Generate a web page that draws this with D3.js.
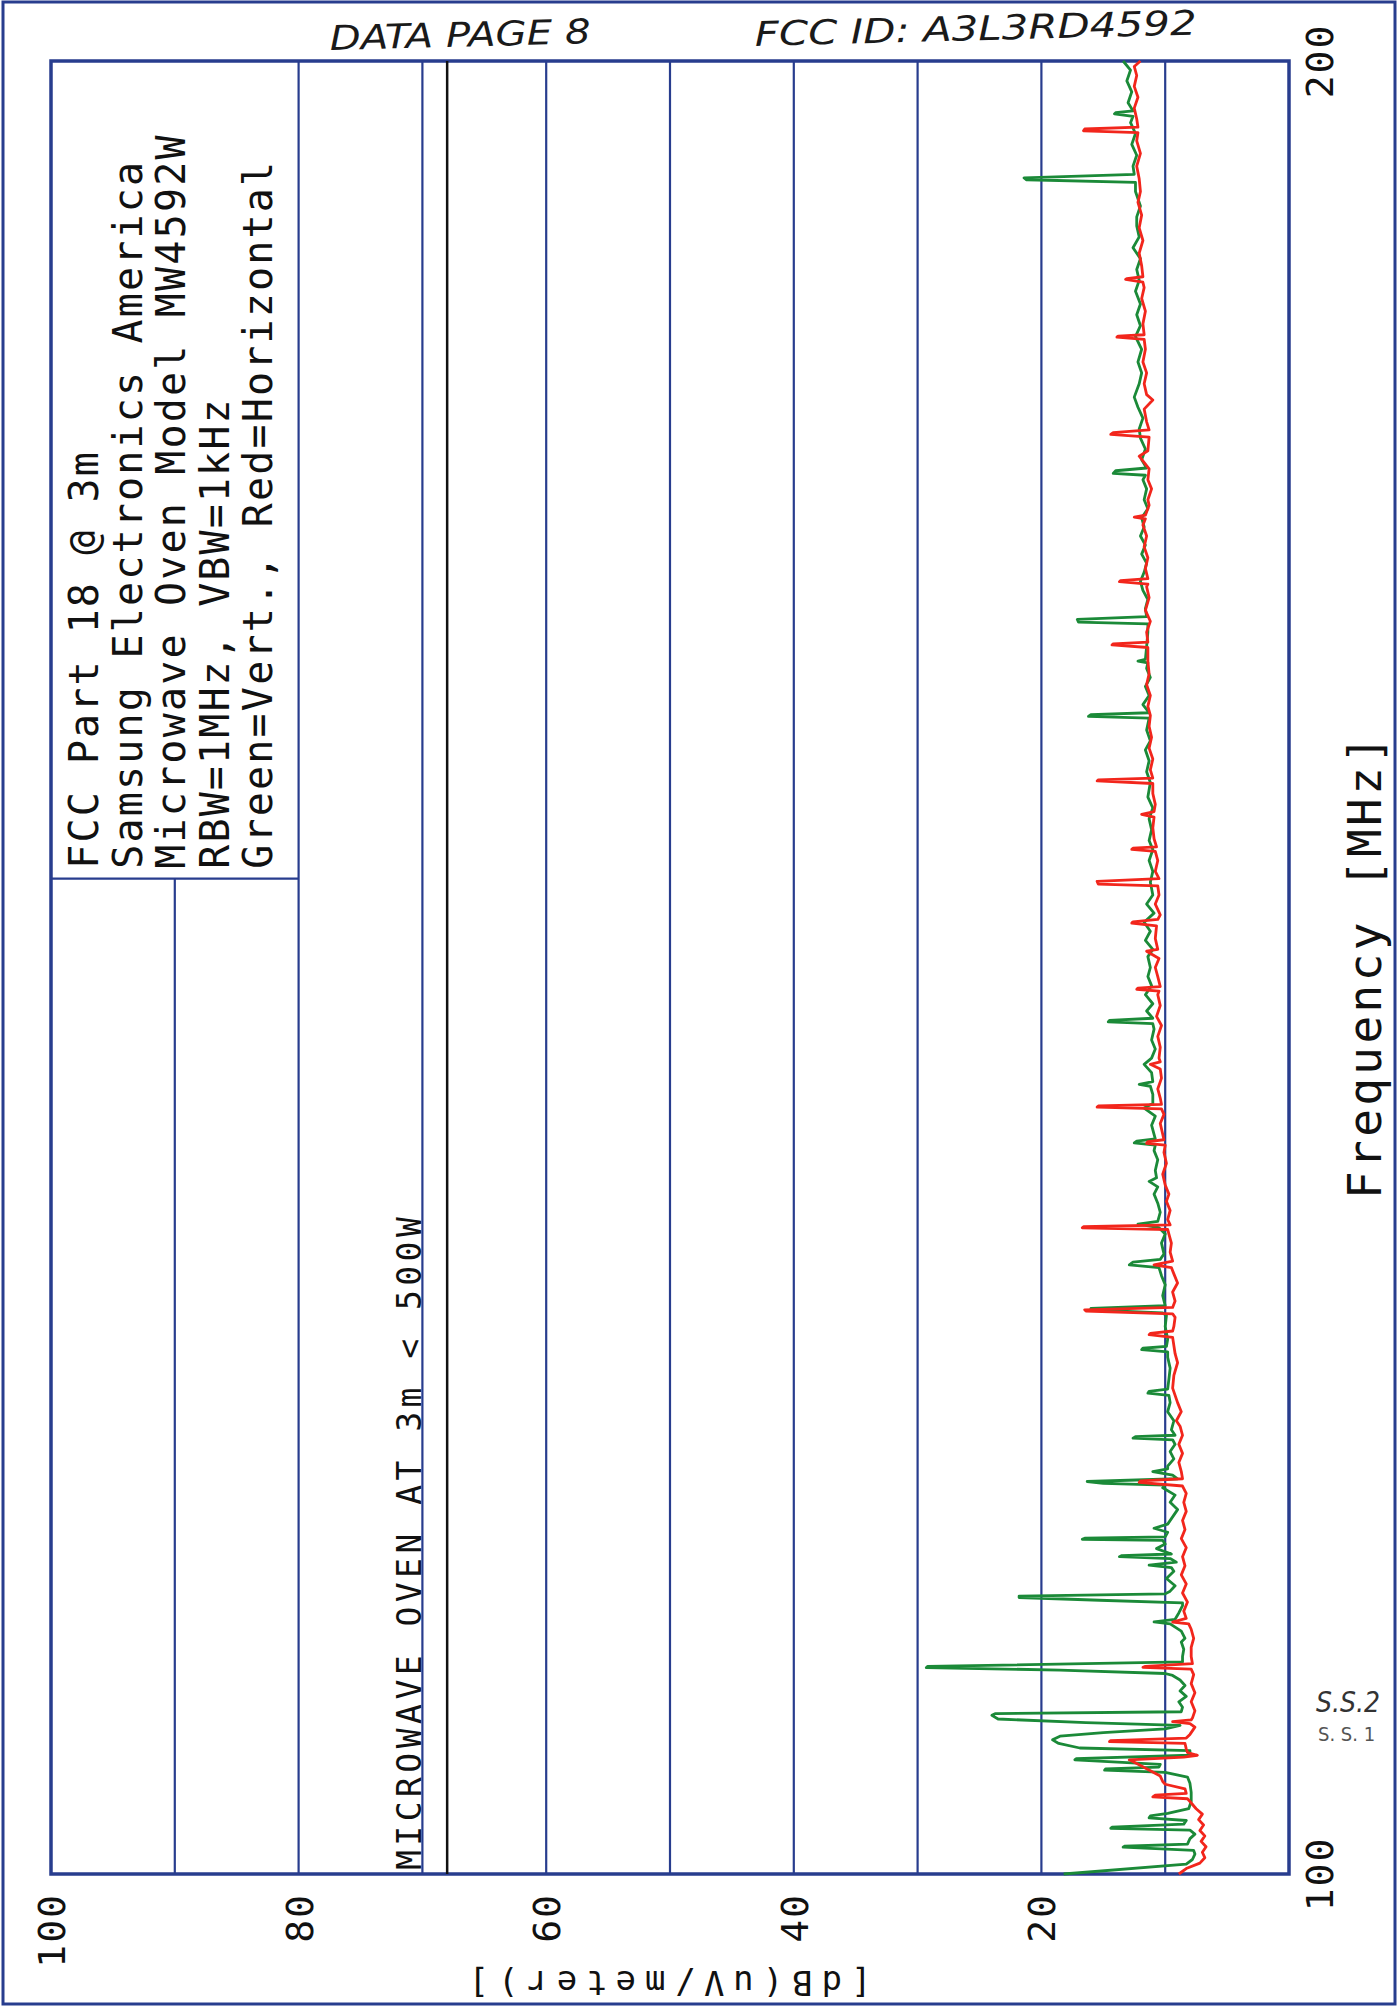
<!DOCTYPE html>
<html>
<head>
<meta charset="utf-8">
<script src="https://cdn.jsdelivr.net/npm/d3@7"></script>
<style>
  html, body { margin: 0; padding: 0; background: #ffffff; }
  svg { display: block; }
</style>
</head>
<body>
<svg id="chart" width="1399" height="2007"></svg>
<script>
// ---------------- DATA ----------------
const freqDomain = [100, 200];            // MHz
const levelDomain = [0, 100];             // dB(uV/meter)
const freqTickLabels = ["100", "200"];
const freqTickValues = [100, 200];
const levelTickValues = [100, 80, 60, 40, 20];
const gridLevels = [10, 20, 30, 40, 50, 60, 70, 80, 90];
const limitLevel = 68;                     // 3 m limit, oven < 500 W
const infoBoxBottomFreq = 154.9;           // info box covers 80..100 dB above this
const infoLines = [
  "FCC Part 18 @ 3m",
  "Samsung Electronics America",
  "Microwave Oven Model MW4592W",
  "RBW=1MHz, VBW=1kHz",
  "Green=Vert., Red=Horizontal"
];
const limitLabel = "MICROWAVE OVEN AT 3m < 500W";
const xTitle = "Frequency [MHz]";
const yTitle = "[dB(uV/meter)]";
const headerNotes = ["DATA PAGE 8", "FCC ID: A3L3RD4592"];
const initials = ["S.S.2", "S. S. 1"];

// Green = vertical polarisation  [MHz, dB(uV/m)]
const greenVert = [
[100.0,18.2],[100.55,8.3],[100.8,7.8],[101.1,7.6],[101.3,7.7],[101.48,13.4],[101.53,13.3],[101.65,8.2],
[101.95,8.0],[102.2,7.6],[102.42,8.0],[102.52,14.4],[102.58,14.3],[102.75,8.5],[102.95,8.3],[103.1,11.3],
[103.2,11.2],[103.35,9.8],[103.6,8.1],[104.0,7.9],[104.5,7.9],[105.0,8.0],[105.35,8.2],[105.6,10.0],
[105.73,14.9],[105.8,14.8],[105.9,10.5],[106.05,10.4],[106.3,17.3],[106.36,17.2],[106.55,8.0],[106.8,8.0],
[106.95,16.9],[107.2,18.6],[107.4,19.1],[107.6,18.5],[107.8,15.0],[108.0,10.0],[108.2,8.8],[108.35,16.4],
[108.55,23.5],[108.75,24.0],[108.85,23.7],[108.95,8.7],[109.2,8.6],[109.5,8.9],[109.8,8.3],[110.1,8.8],
[110.4,8.4],[110.7,8.8],[110.95,9.4],[111.06,10.0],[111.25,18.5],[111.38,29.3],[111.45,29.2],[111.7,8.6],
[112.0,8.6],[112.4,8.5],[112.8,8.7],[113.0,8.4],[113.4,8.7],[113.8,9.6],[113.91,10.9],[114.05,9.2],
[114.4,8.9],[114.8,8.6],[114.95,8.6],[115.1,15.3],[115.25,21.8],[115.33,21.8],[115.45,10.0],[115.6,9.6],
[115.9,9.2],[116.3,9.9],[116.7,9.3],[116.9,9.5],[117.04,11.3],[117.2,9.1],[117.4,9.6],[117.5,13.7],
[117.56,13.5],[117.65,9.5],[117.95,10.7],[118.2,10.0],[118.4,10.2],[118.46,16.7],[118.52,16.5],[118.6,10.0],
[118.85,9.8],[119.07,10.9],[119.3,9.8],[119.7,9.4],[120.1,9.0],[120.5,9.6],[120.9,9.2],[121.3,10.2],
[121.45,10.0],[121.55,15.0],[121.65,16.3],[121.8,9.0],[122.0,9.4],[122.2,11.0],[122.35,9.8],[122.5,9.8],
[122.9,9.3],[123.3,9.6],[123.7,9.2],[123.95,9.4],[124.04,12.6],[124.12,12.4],[124.2,9.2],[124.5,9.5],
[125.0,9.3],[125.5,9.8],[126.0,9.6],[126.4,9.7],[126.52,11.4],[126.62,11.3],[126.75,9.8],[127.3,9.7],
[127.9,9.6],[128.5,9.8],[128.8,9.8],[128.92,11.9],[129.0,11.8],[129.1,9.9],[129.5,9.8],[130.2,10.0],
[130.8,9.9],[130.95,10.2],[131.1,15.5],[131.2,16.0],[131.35,10.0],[131.9,10.2],[132.5,10.0],[133.0,10.3],
[133.45,10.5],[133.6,12.9],[133.75,12.6],[133.9,10.4],[134.2,10.1],[134.8,10.3],[135.3,10.0],[135.65,10.5],
[135.85,12.2],[136.0,10.6],[136.5,10.4],[137.0,10.6],[137.5,10.9],[137.9,10.6],[138.2,11.3],[138.4,10.7],
[138.8,10.8],[139.4,10.6],[139.9,10.9],[140.2,10.8],[140.33,12.5],[140.42,12.3],[140.55,10.8],[140.8,10.9],
[141.3,11.1],[141.8,10.8],[142.25,11.7],[142.5,11.0],[143.0,11.0],[143.45,11.2],[143.55,12.1],[143.7,11.0],
[144.2,11.1],[144.66,11.7],[145.0,11.1],[145.5,10.8],[146.0,11.1],[146.6,10.9],[146.9,11.0],[147.0,14.6],
[147.08,14.5],[147.2,11.0],[147.6,11.5],[148.0,11.0],[148.5,11.6],[149.0,11.1],[149.5,11.4],[150.0,11.2],
[150.6,11.4],[151.0,11.0],[151.5,11.6],[152.0,11.2],[152.5,11.7],[153.0,10.9],[153.5,11.5],[154.0,11.0],
[154.7,11.2],[155.3,11.0],[155.9,11.3],[156.5,11.0],[157.0,11.3],[157.6,11.1],[158.2,11.3],[158.8,11.0],
[159.4,11.4],[160.2,11.2],[160.8,11.5],[161.4,11.3],[162.0,11.6],[162.5,11.2],[163.1,11.5],[163.75,11.3],
[163.85,16.2],[163.95,16.0],[164.05,11.3],[164.5,11.8],[165.0,11.3],[165.5,11.6],[166.0,11.2],[166.5,11.5],
[166.8,11.4],[166.9,12.2],[167.0,11.6],[167.7,11.5],[168.5,11.4],[168.95,11.4],[169.05,17.0],[169.2,17.1],
[169.35,11.5],[169.8,11.6],[170.3,11.4],[170.8,11.8],[171.3,12.0],[171.8,11.7],[172.3,11.5],[172.8,11.9],
[173.3,11.6],[173.8,12.0],[174.3,11.7],[174.8,11.9],[175.3,11.4],[175.8,11.7],[176.4,11.5],[176.9,11.8],
[177.15,11.6],[177.25,14.2],[177.4,14.0],[177.55,11.5],[178.0,11.9],[178.6,11.6],[179.2,12.0],[179.7,12.1],
[180.3,11.8],[180.9,12.2],[181.46,12.5],[182.2,12.1],[182.8,11.9],[183.4,12.2],[184.1,11.9],[184.8,12.4],
[185.4,12.0],[186.0,12.3],[186.6,12.0],[187.3,12.4],[187.9,12.1],[188.5,12.3],[189.1,12.0],[189.7,12.6],
[190.3,12.1],[190.9,12.3],[191.4,12.3],[192.0,12.0],[192.8,12.4],[193.3,12.4],[193.45,21.2],[193.55,21.4],
[193.75,12.5],[194.2,12.6],[194.8,12.3],[195.4,12.7],[196.0,12.4],[196.6,12.8],[196.95,12.6],[197.08,14.1],
[197.15,14.0],[197.25,12.6],[197.7,13.0],[198.3,12.7],[198.9,13.1],[199.5,12.8],[200.0,13.4]
];

// Red = horizontal polarisation  [MHz, dB(uV/m)]
const redHoriz = [
[100.0,8.9],[100.3,8.3],[100.6,7.2],[100.9,6.8],[101.2,7.0],[101.5,6.7],[101.8,7.1],[102.1,6.8],
[102.4,7.2],[102.7,6.9],[103.0,7.3],[103.3,7.0],[103.6,7.5],[104.0,8.0],[104.15,8.2],[104.25,11.0],
[104.35,10.8],[104.45,8.3],[104.7,8.4],[104.95,10.0],[105.1,10.2],[105.4,10.4],[105.8,11.5],[106.1,12.3],
[106.3,12.9],[106.45,8.5],[106.55,7.4],[106.7,8.2],[106.9,8.3],[107.2,8.4],[107.3,14.5],[107.36,14.4],
[107.5,8.3],[107.7,8.0],[108.1,7.6],[108.3,8.0],[108.4,9.4],[108.5,7.9],[108.6,7.8],[109.0,7.6],
[109.5,7.9],[110.0,7.6],[110.5,7.9],[111.0,7.7],[111.3,7.9],[111.4,11.8],[111.45,11.6],[111.6,7.8],
[112.0,7.9],[112.5,7.9],[113.0,7.7],[113.5,7.9],[113.8,8.1],[113.9,9.4],[114.1,8.3],[114.5,8.5],
[115.0,8.2],[115.5,8.6],[116.0,8.3],[116.5,8.7],[117.0,8.4],[117.5,8.6],[118.0,8.3],[118.5,8.7],
[119.0,8.4],[119.5,8.6],[120.0,8.3],[120.5,8.5],[121.0,8.3],[121.4,8.6],[121.6,12.1],[121.68,12.0],
[121.8,8.6],[122.2,8.7],[122.7,8.9],[123.2,8.6],[123.7,8.9],[124.2,8.6],[124.7,8.8],[125.0,9.1],
[125.5,8.7],[126.0,9.0],[126.8,9.4],[127.5,9.3],[128.2,9.0],[128.7,9.2],[129.6,9.4],[129.75,11.3],
[129.82,11.2],[129.95,9.4],[130.2,9.3],[130.7,9.2],[130.9,9.4],[131.05,16.4],[131.12,16.5],[131.25,9.4],
[131.6,9.2],[132.1,9.4],[132.6,9.0],[133.1,9.3],[133.45,9.5],[133.6,10.9],[133.8,9.4],[134.3,9.6],
[134.8,9.5],[135.3,9.7],[135.55,9.8],[135.64,16.7],[135.7,16.6],[135.8,9.6],[136.1,9.8],[136.6,9.6],
[137.1,9.9],[137.5,9.7],[138.0,10.0],[138.6,10.2],[139.2,9.9],[139.8,10.1],[140.2,10.0],[140.3,11.5],
[140.4,11.4],[140.5,10.1],[140.8,10.2],[141.4,10.4],[141.9,10.1],[142.2,10.3],[142.3,15.5],[142.36,15.4],
[142.45,10.3],[142.8,10.4],[143.3,10.6],[143.9,10.3],[144.4,10.4],[144.66,11.2],[144.8,10.4],[145.0,10.5],
[145.6,10.4],[146.2,10.6],[146.8,10.3],[147.3,10.7],[147.9,10.4],[148.5,10.6],[148.7,10.5],[148.8,12.3],
[148.86,12.2],[148.95,10.4],[149.5,10.6],[150.0,10.8],[150.5,10.5],[150.9,11.5],[151.0,10.6],[151.6,10.8],
[152.3,10.7],[152.45,12.7],[152.52,12.6],[152.65,10.6],[152.9,10.4],[153.5,10.8],[154.0,10.5],[154.5,10.6],
[154.6,15.4],[154.75,15.5],[154.9,10.5],[155.3,10.8],[155.9,10.6],[156.4,10.8],[156.52,12.7],[156.58,12.6],
[156.65,10.7],[157.1,10.9],[157.7,11.0],[158.3,10.9],[158.45,11.9],[158.6,10.9],[159.0,10.8],[159.6,11.0],
[160.15,11.0],[160.29,15.5],[160.35,15.4],[160.45,11.0],[160.9,11.2],[161.5,11.0],[162.1,11.3],[162.7,11.1],
[163.3,11.3],[163.9,11.2],[164.4,11.4],[165.0,11.2],[165.6,11.5],[166.2,11.3],[166.9,11.4],[167.65,11.4],
[167.79,14.3],[167.85,14.2],[167.95,11.4],[168.5,11.5],[169.1,11.2],[169.7,11.6],[170.4,11.3],[171.0,11.5],
[171.15,11.4],[171.28,13.7],[171.34,13.6],[171.45,11.4],[172.0,11.6],[172.6,11.4],[173.2,11.7],[173.8,11.5],
[174.4,11.8],[174.75,11.6],[174.84,12.5],[174.95,11.6],[175.5,11.3],[175.8,11.4],[176.4,11.1],[176.9,11.4],
[177.5,11.3],[178.2,12.1],[178.5,11.4],[179.25,11.3],[179.4,14.4],[179.5,14.2],[179.65,11.3],[180.1,11.5],
[180.8,11.7],[181.3,11.0],[181.6,11.5],[182.2,11.7],[182.8,11.5],[183.4,11.8],[184.1,11.6],[184.65,11.7],
[184.77,13.9],[184.83,13.8],[184.9,11.7],[185.5,11.8],[186.2,11.6],[186.9,11.9],[187.5,11.7],[187.8,11.8],
[187.95,13.2],[188.0,13.1],[188.1,11.8],[188.7,11.9],[189.4,12.1],[190.1,11.8],[190.8,12.1],[191.5,11.9],
[192.2,12.2],[192.8,12.0],[193.5,12.1],[194.2,12.3],[194.9,12.0],[195.6,12.3],[196.05,12.2],[196.15,16.6],
[196.25,16.5],[196.35,12.2],[196.8,12.3],[197.4,12.5],[198.0,12.2],[198.6,12.5],[199.2,12.3],[199.7,12.5],
[200.0,12.0]
];

// ---------------- DRAWING ----------------
const W = 1399, H = 2007;
const navy = "#283d8e", green = "#1b8a38", red = "#f2261c";
const plotFont = "'DejaVu Sans Mono', 'Liberation Mono', monospace";
const handFont = "'DejaVu Sans Condensed', 'DejaVu Sans', sans-serif";

const svg = d3.select("#chart");
svg.append("rect").attr("width", W).attr("height", H).attr("fill", "#ffffff");

// page border
svg.append("rect").attr("x", 3).attr("y", 2).attr("width", 1392).attr("height", 2002)
  .attr("fill", "none").attr("stroke", navy).attr("stroke-width", 3);

// Landscape chart rotated onto the portrait page
const g = svg.append("g").attr("transform", `translate(0,${H}) rotate(-90)`);

const x = d3.scaleLinear().domain(freqDomain).range([133, 1946]);
const y = d3.scaleLinear().domain(levelDomain).range([1289, 51]);

// gridlines (horizontal in landscape)
g.selectAll("line.grid").data(gridLevels).join("line")
  .attr("class", "grid")
  .attr("x1", x(100))
  .attr("x2", d => d === 90 ? x(infoBoxBottomFreq) : x(200))
  .attr("y1", d => y(d)).attr("y2", d => y(d))
  .attr("stroke", navy).attr("stroke-width", 2.2);

// info box edge
g.append("line")
  .attr("x1", x(infoBoxBottomFreq)).attr("x2", x(infoBoxBottomFreq))
  .attr("y1", y(100)).attr("y2", y(80))
  .attr("stroke", navy).attr("stroke-width", 2.2);

// frame
g.append("rect")
  .attr("x", x(100)).attr("y", y(100))
  .attr("width", x(200) - x(100)).attr("height", y(0) - y(100))
  .attr("fill", "none").attr("stroke", navy).attr("stroke-width", 3.5);

// limit line
g.append("line")
  .attr("x1", x(100)).attr("x2", x(200))
  .attr("y1", y(limitLevel)).attr("y2", y(limitLevel))
  .attr("stroke", "#111111").attr("stroke-width", 2.5);

// traces
const line = d3.line().x(d => x(d[0])).y(d => y(d[1]));
g.append("path").datum(greenVert).attr("d", line)
  .attr("fill", "none").attr("stroke", green).attr("stroke-width", 2.8).attr("stroke-linejoin", "round");
g.append("path").datum(redHoriz).attr("d", line)
  .attr("fill", "none").attr("stroke", red).attr("stroke-width", 2.8).attr("stroke-linejoin", "round");

// info box text
const infoBase = [98, 142, 185, 229, 272];
g.selectAll("text.info").data(infoLines).join("text")
  .attr("class", "info")
  .attr("x", x(infoBoxBottomFreq) + 10)
  .attr("y", (d, i) => infoBase[i])
  .attr("font-family", plotFont).attr("font-size", 40)
  .attr("textLength", d => d.length * 26.4 - 6)
  .attr("lengthAdjust", "spacing")
  .attr("fill", "#111").text(d => d);

// limit label
g.append("text")
  .attr("x", x(100) + 4).attr("y", y(70) - 1)
  .attr("font-family", plotFont).attr("font-size", 33)
  .attr("textLength", limitLabel.length * 24.4 - 6)
  .attr("lengthAdjust", "spacing")
  .attr("fill", "#111").text(limitLabel);

// level tick labels (left of landscape plot)
g.selectAll("text.ytick").data(levelTickValues).join("text")
  .attr("class", "ytick")
  .attr("x", 114).attr("y", d => y(d) + 14)
  .attr("text-anchor", "end")
  .attr("font-family", plotFont).attr("font-size", 38)
  .attr("letter-spacing", 2)
  .attr("fill", "#111").text(d => d3.format("d")(d));

// frequency tick labels
g.selectAll("text.xtick").data(freqTickValues).join("text")
  .attr("class", "xtick")
  .attr("x", d => x(d)).attr("y", 1333)
  .attr("text-anchor", "middle")
  .attr("font-family", plotFont).attr("font-size", 38)
  .attr("letter-spacing", 2)
  .attr("fill", "#111").text((d, i) => freqTickLabels[i]);

// axis titles
g.append("text")
  .attr("x", (x(100) + x(200)) / 2).attr("y", 1381)
  .attr("text-anchor", "middle")
  .attr("font-family", plotFont).attr("font-size", 46)
  .attr("textLength", 463).attr("lengthAdjust", "spacing")
  .attr("fill", "#111").text(xTitle);

g.append("text")
  .attr("transform", `translate(36,${(y(0) + y(100)) / 2}) rotate(-90)`)
  .attr("text-anchor", "middle")
  .attr("font-family", plotFont).attr("font-size", 34)
  .attr("textLength", 403).attr("lengthAdjust", "spacing")
  .attr("fill", "#111").text(yTitle);

// handwritten notes on the page
svg.append("text")
  .attr("transform", "translate(330,50) rotate(-1.5)")
  .attr("font-family", handFont).attr("font-style", "italic").attr("font-size", 34)
  .attr("textLength", 261).attr("lengthAdjust", "spacingAndGlyphs")
  .attr("fill", "#1a1a1a").text(headerNotes[0]);
svg.append("text")
  .attr("transform", "translate(755,46) rotate(-1.5)")
  .attr("font-family", handFont).attr("font-style", "italic").attr("font-size", 34)
  .attr("textLength", 442).attr("lengthAdjust", "spacingAndGlyphs")
  .attr("fill", "#1a1a1a").text(headerNotes[1]);

svg.append("text")
  .attr("x", 1316).attr("y", 1712)
  .attr("font-family", handFont).attr("font-style", "italic").attr("font-size", 28)
  .attr("fill", "#333").text(initials[0]);
svg.append("text")
  .attr("x", 1318).attr("y", 1741)
  .attr("font-family", handFont).attr("font-size", 20)
  .attr("fill", "#555").text(initials[1]);
</script>
</body>
</html>
